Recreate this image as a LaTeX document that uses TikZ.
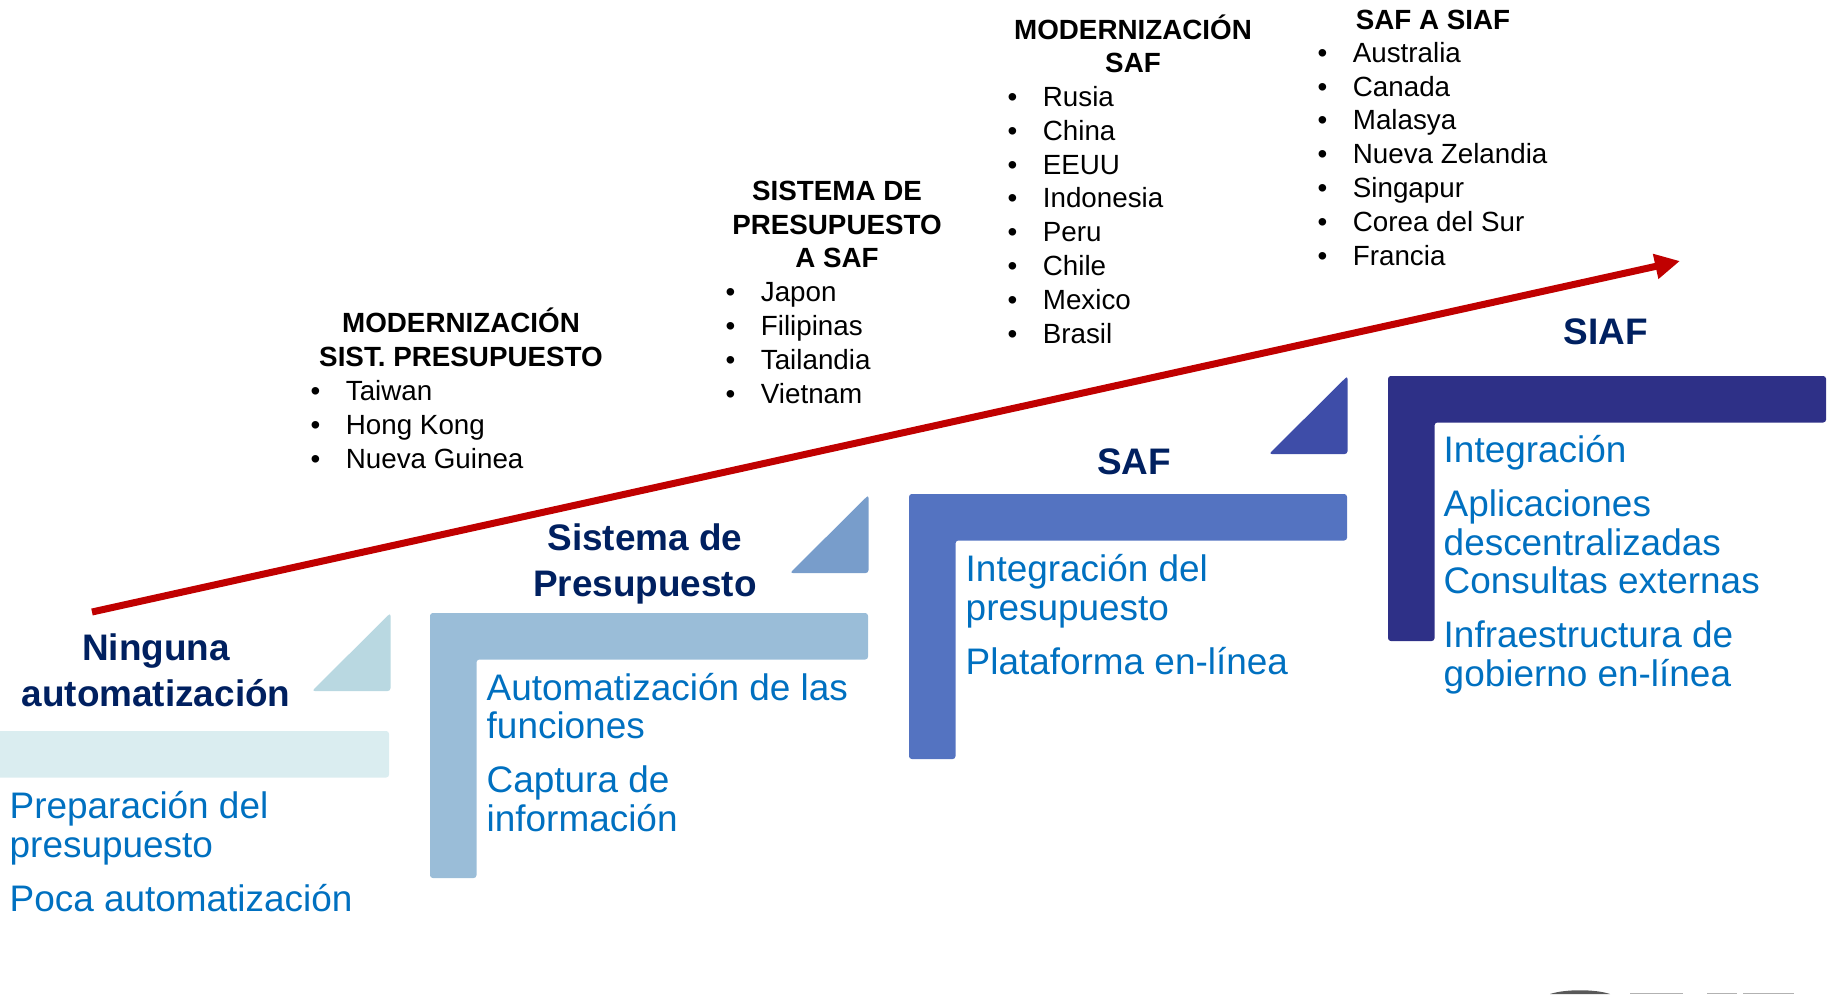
\documentclass[tikz,border=0pt]{standalone}
\usepackage{fontspec}
\setmainfont{Liberation Sans}
\usepackage{xcolor}
\usepackage{tikz}
\usetikzlibrary{arrows.meta}
\definecolor{navyTitle}{RGB}{0,32,96}
\definecolor{itemBlue}{RGB}{0,112,192}
\definecolor{trendRed}{RGB}{192,0,0}
\definecolor{stepA}{RGB}{218,237,240}
\definecolor{triA}{RGB}{185,216,225}
\definecolor{stepB}{RGB}{154,189,216}
\definecolor{triB}{RGB}{120,157,203}
\definecolor{stepC}{RGB}{84,115,193}
\definecolor{triC}{RGB}{62,77,168}
\definecolor{stepD}{RGB}{46,48,135}
\newcommand{\cItem}[1]{\makebox[10pt][l]{\textbullet}#1}
\tikzset{
    title/.style={font=\fontsize{10.5}{12.8}\selectfont\bfseries, text=navyTitle, align=center, anchor=base, inner sep=0pt},
    items/.style={font=\fontsize{10.5}{10.95}\selectfont, text=itemBlue, align=left, anchor=base west, inner sep=0pt},
    head/.style={font=\fontsize{7.9}{9.6}\selectfont\bfseries, align=center, anchor=base, inner sep=0pt},
    countries/.style={font=\fontsize{7.9}{9.6}\selectfont, align=left, anchor=base west, inner sep=0pt},
    arrow/.style={-{Triangle[length=0.25cm, width=0.24cm]}, line width=0.07cm, draw=trendRed},
    pics/stepbar/.style={code={\fill[#1, rounded corners=0.8pt] (0,0) -- (438,0) -- (438,46.5) -- (46.5,46.5) -- (46.5,265) -- (0,265) -- cycle;}},
    pics/steptri/.style={code={\fill[#1, rounded corners=0.8pt] (0,0) -- (78.5,0) -- (78.5,-78) -- cycle;}}
}

\begin{document}
\begin{tikzpicture}[x=0.01cm, y=-0.01cm]
        \clip (0,0) rectangle (1831,994);

        % Steps
        \pic at (-49,731) {stepbar=stepA};
        \pic at (430,613) {stepbar=stepB};
        \pic at (909,494) {stepbar=stepC};
        \pic at (1388,376) {stepbar=stepD};
        \pic at (312,691) {steptri=triA};
        \pic at (790,573) {steptri=triB};
        \pic at (1269,454) {steptri=triC};

        % Titles (placed by the baseline of their last line)
        \node[title] (tNone) at (156,706) {Ninguna\\automatización};
        \node[title] (tBudget) at (645,596) {Sistema de\\Presupuesto};
        \node[title] (tSaf) at (1134,474) {SAF};
        \node[title] (tSiaf) at (1606,344) {SIAF};

        % Step contents
        \node[items] (iNone) at (9,911) {Preparación del\\presupuesto\\[4.4pt]Poca automatización};
        \node[items] (iBudget) at (486,831) {Automatización de las\\funciones\\[4.4pt]Captura de\\información};
        \node[items] (iSaf) at (965,674) {Integración del\\presupuesto\\[4.4pt]Plataforma en-línea};
        \node[items] (iSiaf) at (1443,686) {Integración\\[4.4pt]Aplicaciones\\descentralizadas\\Consultas externas\\[4.4pt]Infraestructura de\\gobierno en-línea};

        % Country lists
        \node[head] (hBudget) at (461,366) {MODERNIZACIÓN\\SIST. PRESUPUESTO};
        \node[countries] (lBudget) at (310,468) {\cItem{Taiwan}\\\cItem{Hong Kong}\\\cItem{Nueva Guinea}};
        \node[head] (hToSaf) at (837,268) {SISTEMA DE\\PRESUPUESTO\\A SAF};
        \node[countries] (lToSaf) at (725,403) {\cItem{Japon}\\\cItem{Filipinas}\\\cItem{Tailandia}\\\cItem{Vietnam}};
        \node[head] (hSaf) at (1133,73) {MODERNIZACIÓN\\SAF};
        \node[countries] (lSaf) at (1007,343) {\cItem{Rusia}\\\cItem{China}\\\cItem{EEUU}\\\cItem{Indonesia}\\\cItem{Peru}\\\cItem{Chile}\\\cItem{Mexico}\\\cItem{Brasil}};
        \node[head] (hSiaf) at (1433,30) {SAF A SIAF};
        \node[countries] (lSiaf) at (1317,265) {\cItem{Australia}\\\cItem{Canada}\\\cItem{Malasya}\\\cItem{Nueva Zelandia}\\\cItem{Singapur}\\\cItem{Corea del Sur}\\\cItem{Francia}};

        % Trend
        \coordinate (trendStart) at (92,612);
        \coordinate (trendEnd) at (1680,261);
        \draw[arrow] (trendStart) -- (trendEnd);

        % Logo edge
        \fill[gray!70!black] (1550,994) .. controls (1565,989) and (1595,989) .. (1610,994) -- cycle;
        \fill[gray!60] (1630,992.5) rectangle (1683,994);
        \fill[gray!60] (1707,992.5) rectangle (1737,994);
        \fill[gray!60] (1743,992.5) rectangle (1794,994);
\end{tikzpicture}
\end{document}
